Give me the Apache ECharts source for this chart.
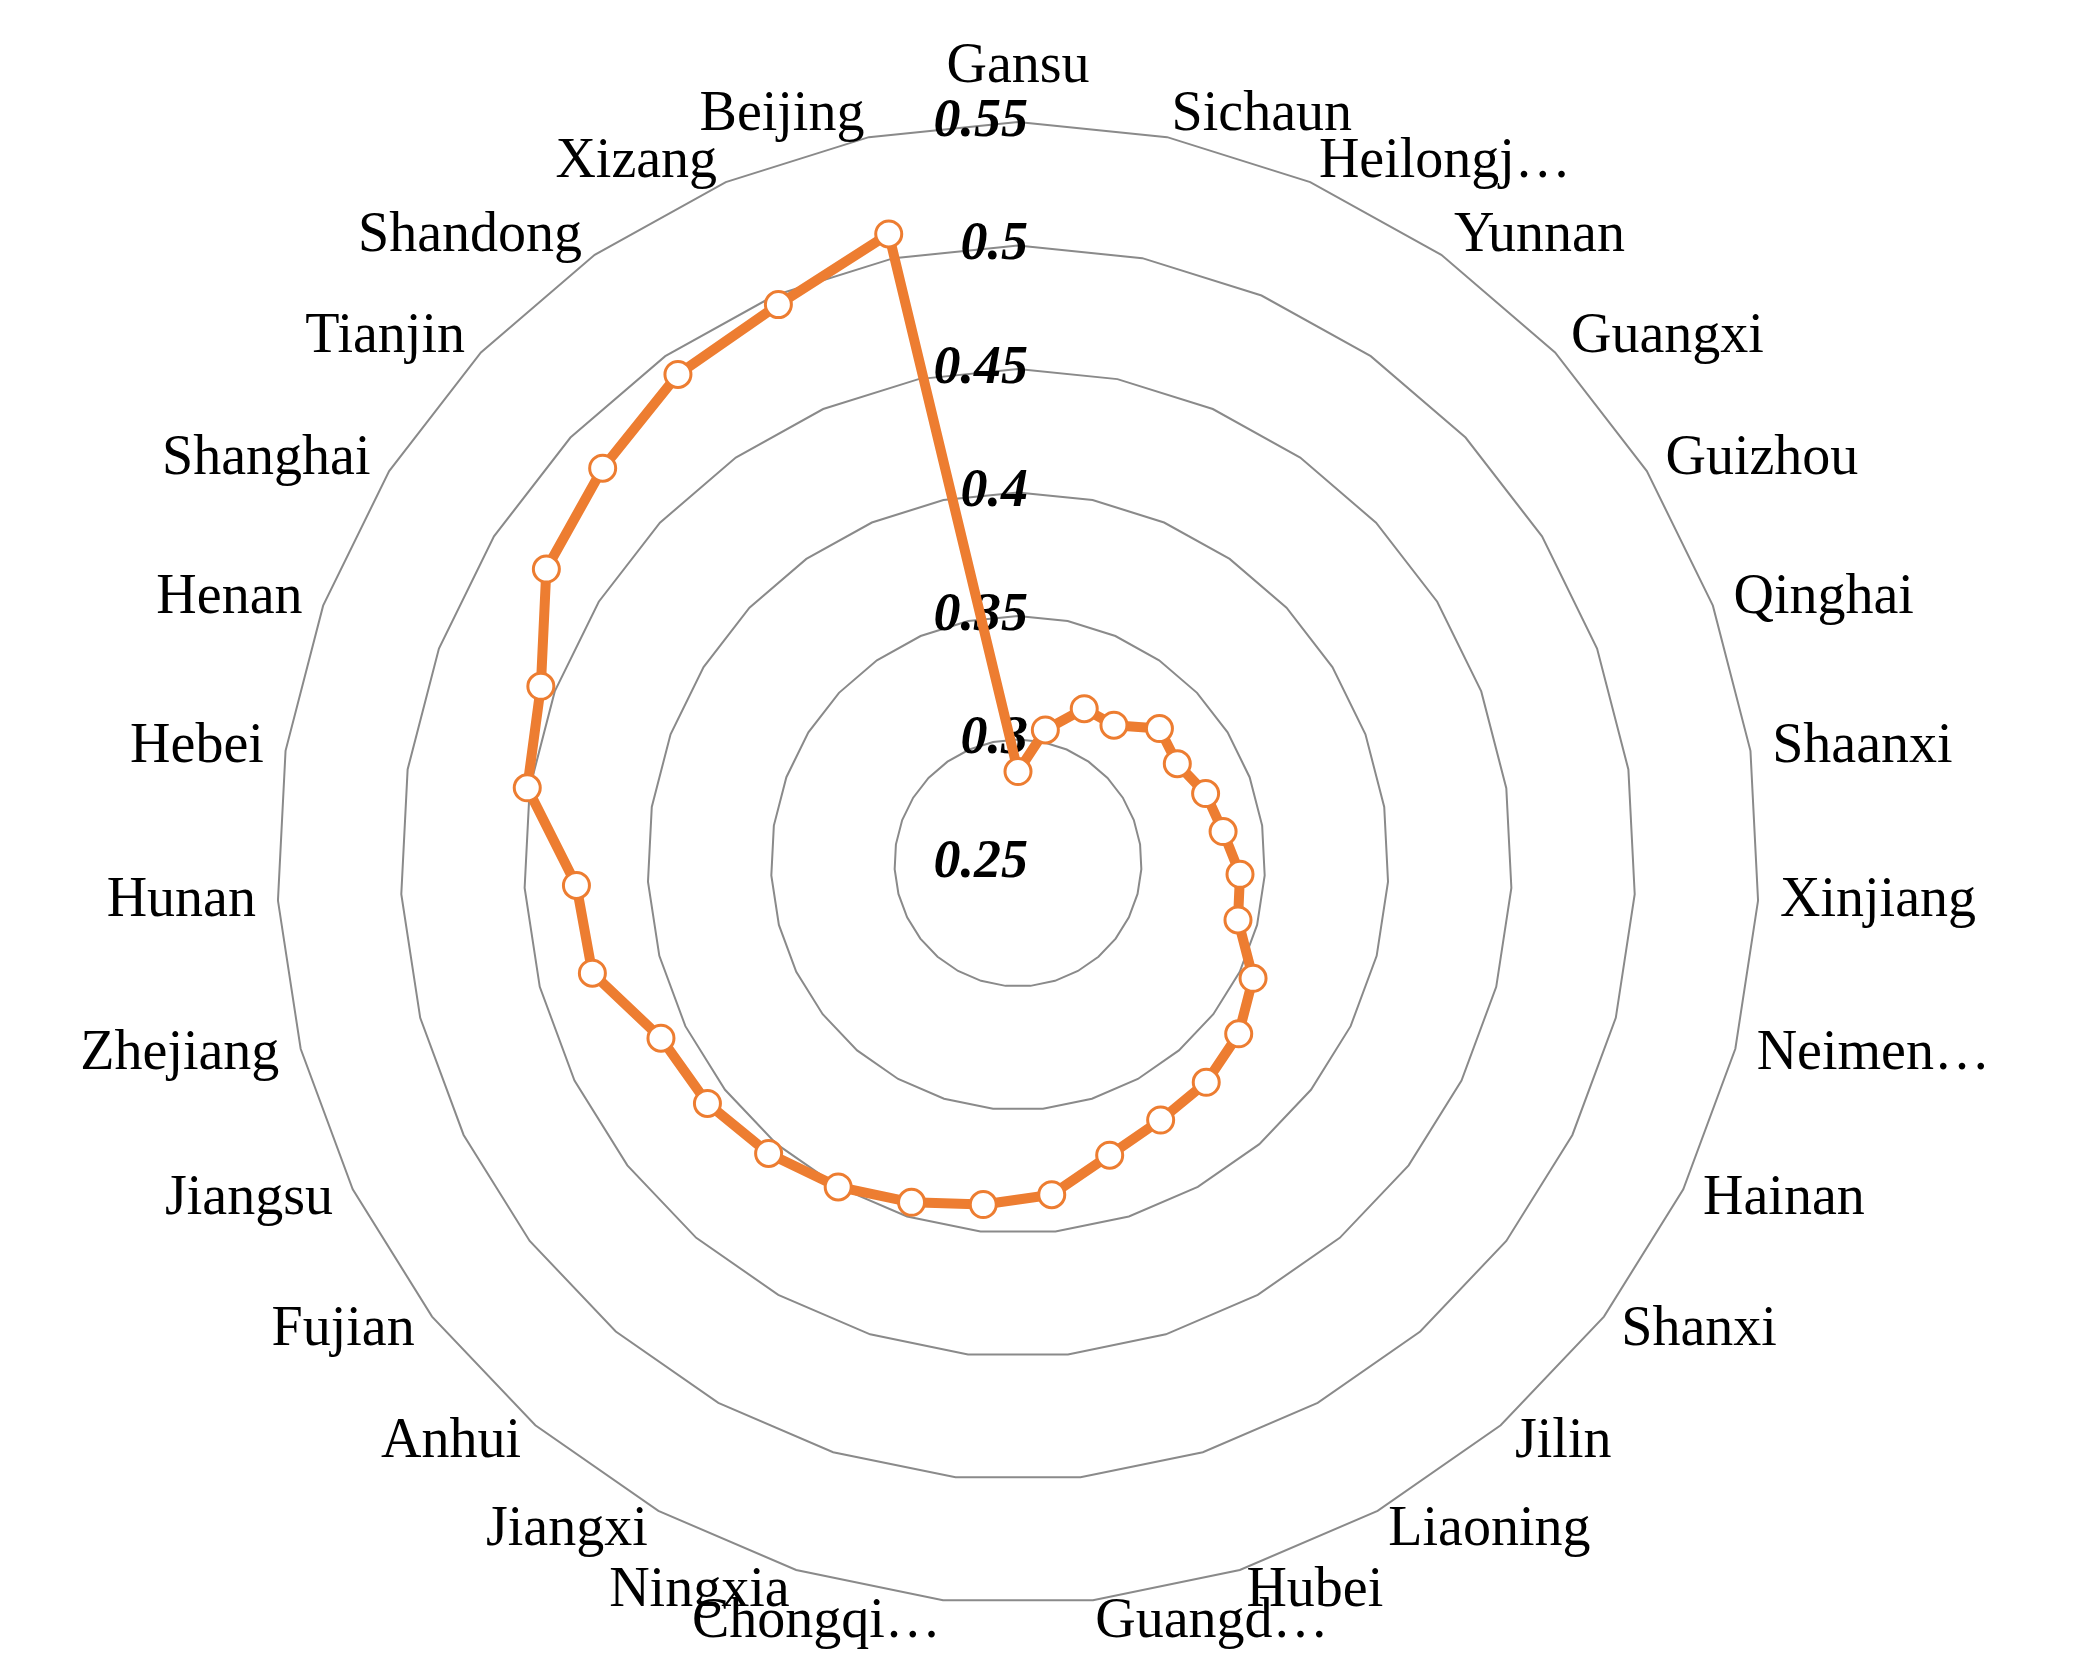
<!DOCTYPE html>
<html><head><meta charset="utf-8">
<script src="https://cdn.jsdelivr.net/npm/echarts@6/dist/echarts.min.js"></script>
<style>html,body{margin:0;padding:0;background:#fff}#c{width:2081px;height:1678px}</style>
</head><body><div id="c"></div>
<script>
const provinces = ["Gansu","Sichaun","Heilongj…","Yunnan","Guangxi","Guizhou","Qinghai","Shaanxi","Xinjiang","Neimen…","Hainan","Shanxi","Jilin","Liaoning","Hubei","Guangd…","Chongqi…","Ningxia","Jiangxi","Anhui","Fujian","Jiangsu","Zhejiang","Hunan","Hebei","Henan","Shanghai","Tianjin","Shandong","Xizang","Beijing"];
const values = [0.287,0.305,0.318,0.318,0.329,0.326,0.331,0.334,0.340,0.342,0.356,0.363,0.367,0.369,0.374,0.385,0.389,0.394,0.400,0.405,0.409,0.411,0.428,0.429,0.451,0.456,0.475,0.482,0.491,0.496,0.510];
const axisMin = 0.25, axisMax = 0.55;

// ECharts radar runs counter-clockwise; reorder so the reference's clockwise order appears
const order = [0].concat(provinces.map((_,i)=>i).slice(1).reverse());
const names = order.map(i=>provinces[i]);
const vals = order.map(i=>values[i]);

const chart = echarts.init(document.getElementById('c'));
chart.setOption({
  animation:false,
  radar:{
    center:[1018,863], radius:741, startAngle:90, shape:'polygon', splitNumber:6,
    indicator: names.map((p,i)=>({name:p,min:axisMin,max:axisMax,
      axisLabel: i===0 ? {show:true} : {show:false}})),
    axisName:{color:'#000',fontFamily:'Liberation Serif',fontSize:56},
    nameGap:22,
    axisLine:{show:false},
    splitArea:{show:false},
    splitLine:{lineStyle:{color:'#8a8a8a',width:2}},
    axisLabel:{show:false,color:'#000',fontFamily:'Liberation Serif',fontSize:54,fontWeight:'bold',fontStyle:'italic',
      formatter:v=>String(+v.toFixed(2)), margin:-10}
  },
  series:[{type:'radar',
    symbol:'circle',symbolSize:26,
    itemStyle:{color:'#fff',borderColor:'#ED7D31',borderWidth:3},
    lineStyle:{color:'#ED7D31',width:10},
    data:[{value:vals}]}]
});
</script></body></html>
